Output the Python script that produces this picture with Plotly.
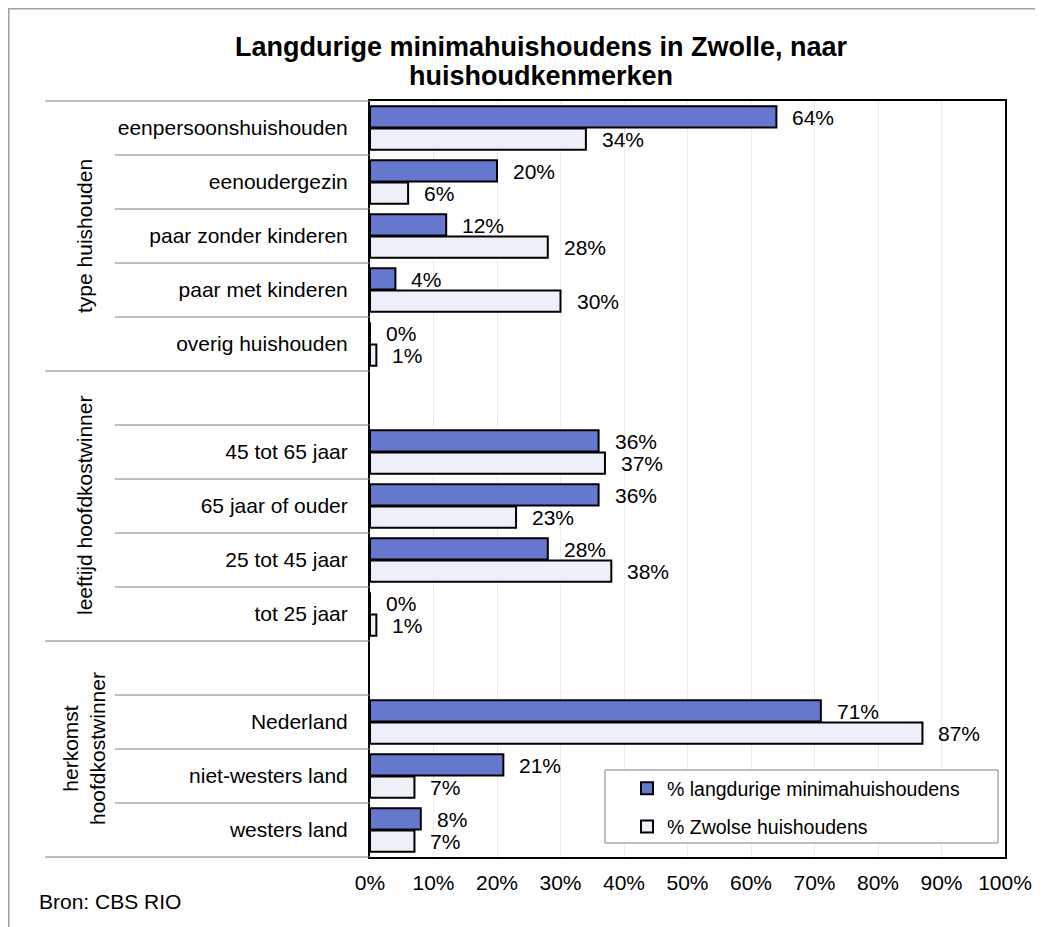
import plotly.graph_objects as go

# ---------------- data ----------------
categories = [
    "eenpersoonshuishouden", "eenoudergezin", "paar zonder kinderen",
    "paar met kinderen", "overig huishouden", "",
    "45 tot 65 jaar", "65 jaar of ouder", "25 tot 45 jaar", "tot 25 jaar", "",
    "Nederland", "niet-westers land", "westers land",
]
groups = ["type huishouden", "leeftijd hoofdkostwinner", "herkomst<br>hoofdkostwinner"]
group_rows = [(0, 5), (5, 10), (10, 14)]  # [start, end) row index of each group
minima_pct = [64, 20, 12, 4, 0, None, 36, 36, 28, 0, None, 71, 21, 8]
zwolle_pct = [34, 6, 28, 30, 1, None, 37, 23, 38, 1, None, 87, 7, 7]
x_ticks = [0, 10, 20, 30, 40, 50, 60, 70, 80, 90, 100]
series_names = ["% langdurige minimahuishoudens", "% Zwolse huishoudens"]
title_lines = ["Langdurige minimahuishoudens in Zwolle, naar", "huishoudkenmerken"]

# ---------------- style ----------------
FONT = "Liberation Sans, Arial, sans-serif"
FS = 21
BLUE = "rgb(102,120,206)"
LIGHT = "rgb(238,240,249)"
OFF = 8                      # page body margin around the figure
W, H = 1043 - OFF, 927 - OFF
PL, PR, PT, PB = 370, 1005, 101, 857   # plot area in page pixels
ML, MR, MT, MB = PL - OFF, W - (PR - OFF), PT - OFF, H - (PB - OFF)
PW = PR - PL
PH = PB - PT
NROWS = len(categories)

def px2paper_x(px):
    return (px - PL) / PW

def px2paper_y(py):
    return 1 - (py - PT) / PH

rows = list(range(NROWS))

fig = go.Figure()
for name, vals, col in [(series_names[0], minima_pct, BLUE), (series_names[1], zwolle_pct, LIGHT)]:
    fig.add_trace(go.Bar(
        y=rows, x=vals, orientation="h", name=name,
        marker=dict(color=col, line=dict(color="black", width=2)),
        legendgroup=name,
    ))

# value labels
annotations = []
for vals, shift in [(minima_pct, 11), (zwolle_pct, -11)]:
    for r, v in zip(rows, vals):
        if v is None:
            continue
        annotations.append(dict(
            x=v, y=r, xref="x", yref="y", text=f"{v}%", showarrow=False,
            xanchor="left", yanchor="middle", xshift=14, yshift=shift,
            font=dict(family=FONT, size=FS, color="black"),
        ))

# group labels
for g, (a, b) in zip(groups, group_rows):
    annotations.append(dict(
        x=px2paper_x(84), y=1 - (a + b) / 2 / NROWS, xref="paper", yref="paper",
        text=g, showarrow=False, textangle=-90, xanchor="center", yanchor="middle",
        font=dict(family=FONT, size=FS, color="black"),
    ))

# title (two lines, tight spacing)
for line, yc in zip(title_lines, [47, 76]):
    annotations.append(dict(
        x=px2paper_x(541), y=px2paper_y(yc), xref="paper", yref="paper",
        text=f"<b>{line}</b>", showarrow=False, xanchor="center", yanchor="middle",
        font=dict(family=FONT, size=27, color="black"),
    ))
# source / figure number
annotations.append(dict(
    x=px2paper_x(37), y=px2paper_y(901), xref="paper", yref="paper",
    text="Bron: CBS RIO", showarrow=False, xanchor="left", yanchor="middle",
    font=dict(family=FONT, size=FS, color="black"),
))
annotations.append(dict(
    x=px2paper_x(0), y=px2paper_y(-3), xref="paper", yref="paper",
    text="Fig. 3.1", showarrow=False, xanchor="left", yanchor="middle",
    font=dict(family=FONT, size=FS, color="black"),
))

shapes = []
# outer frame
shapes.append(dict(type="rect", xref="paper", yref="paper",
                   x0=px2paper_x(8.75), x1=px2paper_x(1100), y0=px2paper_y(8.75), y1=px2paper_y(1000),
                   line=dict(color="#a0a0a0", width=1.5), fillcolor="rgba(0,0,0,0)", layer="below"))
# category separators
group_bounds = {0, 5, 10, 14}
for b in range(NROWS + 1):
    x0 = 45 if b in group_bounds else 115
    yb = 1 - b / NROWS
    shapes.append(dict(type="line", xref="paper", yref="paper",
                       x0=px2paper_x(x0), x1=0, y0=yb, y1=yb,
                       line=dict(color="#808080", width=1)))
# legend box
shapes.append(dict(type="rect", xref="paper", yref="paper",
                   x0=px2paper_x(605), x1=px2paper_x(998), y0=px2paper_y(843), y1=px2paper_y(770),
                   line=dict(color="#808080", width=1), fillcolor="white", layer="above"))

fig.update_layout(
    width=W, height=H,
    margin=dict(l=ML, r=MR, t=MT, b=MB, autoexpand=False),
    paper_bgcolor="white", plot_bgcolor="white",
    barmode="group", bargap=0.18, bargroupgap=0.04,
    font=dict(family=FONT, size=FS, color="black"),
    showlegend=True,
    legend=dict(
        x=px2paper_x(627), y=px2paper_y(769), xanchor="left", yanchor="top",
        bgcolor="rgba(0,0,0,0)", borderwidth=0, traceorder="grouped",
        tracegroupgap=10, itemwidth=30,
        font=dict(family=FONT, size=19.5, color="black"),
    ),
    xaxis=dict(
        range=[0, 100], tickvals=x_ticks, ticktext=[f"{t}%" for t in x_ticks],
        showgrid=True, gridcolor="#ececec", gridwidth=1,
        showline=True, linecolor="black", linewidth=2, mirror=True,
        ticks="outside", ticklen=6, tickcolor="rgba(0,0,0,0)",
        zeroline=False, tickfont=dict(family=FONT, size=FS, color="black"),
        fixedrange=True,
    ),
    yaxis=dict(
        range=[NROWS - 0.5, -0.5], tickvals=rows, ticktext=categories,
        showgrid=False, zeroline=False,
        showline=True, linecolor="black", linewidth=2, mirror=True,
        ticks="outside", ticklen=16, tickcolor="rgba(0,0,0,0)",
        tickfont=dict(family=FONT, size=FS, color="black"),
        fixedrange=True,
    ),
    annotations=annotations,
    shapes=shapes,
)

fig.write_html("out.html")
